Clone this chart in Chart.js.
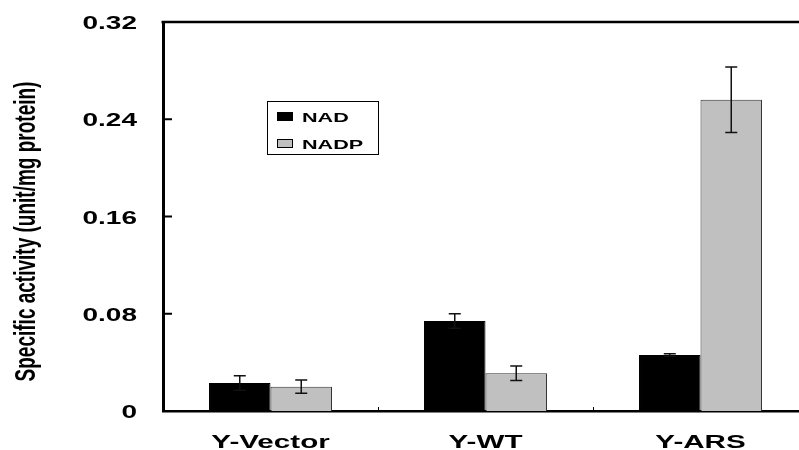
<!DOCTYPE html>
<html>
<head>
<meta charset="utf-8">
<script src="https://cdn.jsdelivr.net/npm/chart.js@4.4.1/dist/chart.umd.min.js"></script>
<style>
  html, body { margin: 0; padding: 0; background: #fff; overflow: hidden; }
  #wrap { width: 808px; height: 450px; position: relative; }
</style>
</head>
<body>
<div id="wrap"><canvas id="chart"></canvas></div>
<script>
// data
const categories = ['Y-Vector', 'Y-WT', 'Y-ARS'];
const nadValues = [0.023, 0.074, 0.046];
const nadErrors = [0.006, 0.006, 0.001];
const nadpValues = [0.020, 0.031, 0.256];
const nadpErrors = [0.0055, 0.006, 0.027];
const yTicks = [0, 0.08, 0.16, 0.24, 0.32];
const yTickLabels = ['0', '0.08', '0.16', '0.24', '0.32'];
const yTitle = 'Specific activity (unit/mg protein)';

const FONT = '"Liberation Sans", Arial, sans-serif';
const SX = 1.6; // the original figure is stretched sideways

function wideText(ctx, text, x, y, align, font) {
    ctx.save();
    ctx.translate(x, y);
    ctx.scale(SX, 1);
    ctx.font = font;
    ctx.fillStyle = '#000';
    ctx.textAlign = align;
    ctx.textBaseline = 'alphabetic';
    ctx.fillText(text, 0, 0);
    ctx.restore();
}

// error bars, drawn from the values through the y scale
const errorBars = {
    id: 'errorBars',
    afterDatasetsDraw(chart) {
        const ctx = chart.ctx;
        const y = chart.scales.y;
        chart.data.datasets.forEach((ds, d) => {
            const meta = chart.getDatasetMeta(d);
            meta.data.forEach((bar, i) => {
                const v = ds.data[i], e = ds.errors[i];
                const top = y.getPixelForValue(v + e);
                const bot = y.getPixelForValue(v - e);
                ctx.save();
                ctx.strokeStyle = '#111';
                ctx.lineWidth = 1.5;
                ctx.beginPath();
                ctx.moveTo(bar.x, top); ctx.lineTo(bar.x, bot);
                ctx.moveTo(bar.x - 6, top); ctx.lineTo(bar.x + 6, top);
                ctx.moveTo(bar.x - 6, bot); ctx.lineTo(bar.x + 6, bot);
                ctx.stroke();
                ctx.restore();
            });
        });
    }
};

// frame top line, inward ticks, wide labels, legend box
const decorations = {
    id: 'decorations',
    afterDraw(chart) {
        const ctx = chart.ctx;
        const area = chart.chartArea;
        const xs = chart.scales.x, ys = chart.scales.y;

        ctx.save();
        ctx.strokeStyle = '#000';
        ctx.lineWidth = 2.5;
        ctx.beginPath();
        ctx.moveTo(area.left - 1.5, area.top);
        ctx.lineTo(area.right, area.top);
        ctx.stroke();

        // y ticks pointing into the plot
        ctx.lineWidth = 2;
        ys.ticks.forEach(t => {
            const py = ys.getPixelForValue(t.value);
            ctx.beginPath();
            ctx.moveTo(area.left, py);
            ctx.lineTo(area.left + 9, py);
            ctx.stroke();
        });

        // small ticks between categories
        ctx.lineWidth = 1;
        for (let i = 0; i < categories.length - 1; i++) {
            const px = Math.round((xs.getPixelForValue(i) + xs.getPixelForValue(i + 1)) / 2) + 0.5;
            ctx.beginPath();
            ctx.moveTo(px, area.bottom);
            ctx.lineTo(px, area.bottom - 4);
            ctx.stroke();
        }
        ctx.restore();

        // y tick labels
        ys.ticks.forEach(t => {
            wideText(ctx, t.label, 137, ys.getPixelForValue(t.value) + 7, 'right', 'bold 17.5px ' + FONT);
        });

        // category labels
        categories.forEach((c, i) => {
            wideText(ctx, c, xs.getPixelForValue(i), 448, 'center', 'bold 18.5px ' + FONT);
        });

        // y title, rotated
        ctx.save();
        ctx.translate(27, (area.top + area.bottom) / 2 + 15);
        ctx.scale(SX, 1);
        ctx.rotate(-Math.PI / 2);
        ctx.font = 'bold 19px ' + FONT;
        ctx.fillStyle = '#000';
        ctx.textAlign = 'center';
        ctx.textBaseline = 'middle';
        ctx.fillText(yTitle, 0, 0);
        ctx.restore();

        // legend
        ctx.save();
        ctx.strokeStyle = '#000';
        ctx.lineWidth = 1;
        ctx.strokeRect(267.5, 101.5, 111, 53);
        chart.data.datasets.forEach((ds, d) => {
            const sy = d === 0 ? 112 : 139;
            ctx.fillStyle = ds.backgroundColor;
            ctx.fillRect(277, sy, 15, 8);
            ctx.strokeStyle = '#000';
            ctx.strokeRect(277.5, sy + 0.5, 15, 8);
            wideText(ctx, ds.label, 302, sy + 9.5, 'left', 'bold 13.5px ' + FONT);
        });
        ctx.restore();
    }
};

new Chart(document.getElementById('chart'), {
    type: 'bar',
    data: {
        labels: categories,
        datasets: [
            { label: 'NAD', data: nadValues, errors: nadErrors,
              backgroundColor: '#000000', borderColor: '#000000', borderWidth: 1 },
            { label: 'NADP', data: nadpValues, errors: nadpErrors,
              backgroundColor: '#c0c0c0', borderColor: '#333333', borderWidth: 1 }
        ]
    },
    options: {
        responsive: true,
        maintainAspectRatio: false,
        animation: false,
        layout: { padding: { top: 22, left: 0, right: 0, bottom: 0 } },
        plugins: { legend: { display: false }, tooltip: { enabled: false } },
        datasets: { bar: { categoryPercentage: 0.572, barPercentage: 1 } },
        scales: {
            x: {
                grid: { display: false },
                border: { display: true, color: '#000', width: 2.5 },
                ticks: { display: false },
                afterFit(scale) { scale.height = 39; }
            },
            y: {
                min: 0,
                max: 0.32,
                afterBuildTicks(scale) { scale.ticks = yTicks.map(v => ({ value: v })); },
                ticks: { display: false, callback: (v, i) => yTickLabels[i] },
                grid: { display: false },
                border: { display: true, color: '#000', width: 3 },
                afterFit(scale) { scale.width = 163; }
            }
        }
    },
    plugins: [errorBars, decorations]
});
</script>
</body>
</html>
